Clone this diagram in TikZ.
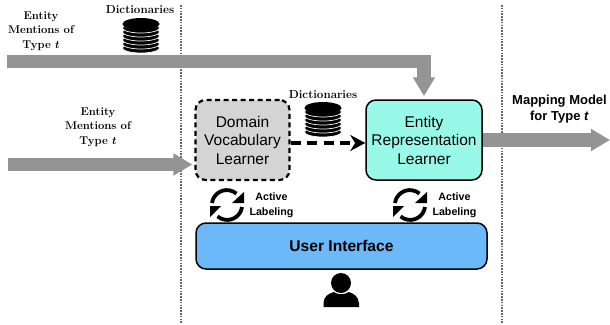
\documentclass[tikz,border=0pt]{standalone}
\usepackage{amsmath}
\usepackage{fontspec}
\setsansfont{Liberation Sans}
\usetikzlibrary{arrows.meta, positioning}

\definecolor{domainfill}{HTML}{D4D4D4}
\definecolor{entityfill}{HTML}{99F9E8}
\definecolor{uifill}{HTML}{6DB8F8}

\tikzset{
	learnerbox/.style={draw=black, line width=1.5pt, rounded corners=10pt, minimum width=94pt, minimum height=80pt, align=center, font=\sffamily\fontsize{15.5}{18.5}\selectfont},
	flowarrow/.style={draw=black!42, line width=13.5pt, -{Triangle[width=21pt, length=19pt]}},
	dicttext/.style={font=\bfseries\fontsize{11.6}{12}\selectfont, inner sep=0pt},
	mentiontext/.style={font=\bfseries\fontsize{11.3}{14.5}\selectfont, align=center, inner sep=0pt},
	boldtext/.style={font=\sffamily\bfseries\fontsize{10.7}{14.5}\selectfont, align=center, inner sep=0pt},
	sepline/.style={draw=black!60, line width=2pt, dash pattern=on 1.6pt off 1.2pt},
	dbstack/.pic={
		% Stacked discs, bottom one first
		\foreach \d in {13,9,5,1,-3,-7,-11}{
			\fill[black, draw=white, line width=0.7pt] (0,\d) ellipse[x radius=18.5, y radius=5];
		}
		\fill[black] (0,-11) ellipse[x radius=18.5, y radius=6];
	},
	cycleicon/.pic={
		% Two arcs chasing each other
		\draw[line width=3.8pt] (-15,-2) arc[start angle=188, end angle=310, radius=15];
		\fill (17,-13) -- (17,-2) -- (5,-2) -- cycle;
		\draw[line width=3.8pt] (15,2) arc[start angle=8, end angle=130, radius=15];
		\fill (-17,1) -- (-6,1) -- (-17,12) -- cycle;
	}
}

\begin{document}
\begin{tikzpicture}[x=1pt, y=-1pt]
	\useasboundingbox (0,0) rectangle (610,324);

	% Boxes
	\node[learnerbox, fill=domainfill, draw=black, dash pattern=on 5pt off 3.5pt, line width=2.2pt] (domain) at (242.5,140) {Domain\\Vocabulary\\Learner};
	\node[learnerbox, fill=entityfill, minimum width=116pt] (entity) at (424,140) {Entity\\Representation\\Learner};
	\node[draw=black, line width=1.5pt, rounded corners=10pt, fill=uifill, minimum width=291pt, minimum height=46pt, font=\sffamily\bfseries\fontsize{15.6}{18}\selectfont] (ui) at (341.5,246) {User Interface\hspace{13pt}};

	% Separators
	\coordinate (septopa) at (181,5);
	\coordinate (sepbota) at (181,324);
	\coordinate (septopb) at (502,5);
	\coordinate (sepbotb) at (502,324);
	\draw[sepline] (septopa) -- (sepbota);
	\draw[sepline] (septopb) -- (sepbotb);

	% Grey arrows
	\coordinate (topstart) at (7,61.5);
	\coordinate (midstart) at (8,164.5);
	\coordinate (mapend) at (610,140);
	\draw[flowarrow, shorten >=3pt] (topstart) -| (entity.north);
	\draw[flowarrow, shorten >=2pt] (midstart) -- (midstart -| domain.west);
	\draw[flowarrow] (entity.east) -- (mapend);

	% Dashed arrow between the learners
	\draw[line width=4pt, dash pattern=on 10pt off 6.5pt, -{Stealth[width=16pt, length=15pt]}] ([yshift=-3pt]domain.east) -- ([yshift=-3pt]entity.west);

	% Texts on the left
	\node[mentiontext] (topmention) at (41,31) {Entity\\Mentions of\\Type $\boldsymbol{t}$};
	\node[mentiontext] (midmention) at (98,127) {Entity\\Mentions of\\Type $\boldsymbol{t}$};
	\node[dicttext] (topdict) at (140,9.5) {Dictionaries};
	\node[dicttext] (middict) at (323,94.5) {Dictionaries};

	% Dictionary stacks
	\pic at (141,35) {dbstack};
	\pic at (323,119) {dbstack};

	% Output text
	\node[boldtext, font=\sffamily\bfseries\fontsize{13}{16}\selectfont] (maptext) at (559.5,109) {Mapping Model\\for Type \textit{t}};

	% Active labeling
	\pic at (227,205) {cycleicon};
	\pic at (410,205) {cycleicon};
	\node[boldtext] (labela) at (271.5,205.5) {Active\\Labeling};
	\node[boldtext] (labelb) at (454.5,205.5) {Active\\Labeling};

	% User icon
	\fill (341,283) circle (10pt);
	\fill (323.5,307) -- (323.5,303) .. controls (324,296) and (328,294) .. (334,292) .. controls (338,295) and (344,295) .. (349,292) .. controls (354,294) and (358,296) .. (359,303) -- (359,307) -- cycle;
\end{tikzpicture}
\end{document}
